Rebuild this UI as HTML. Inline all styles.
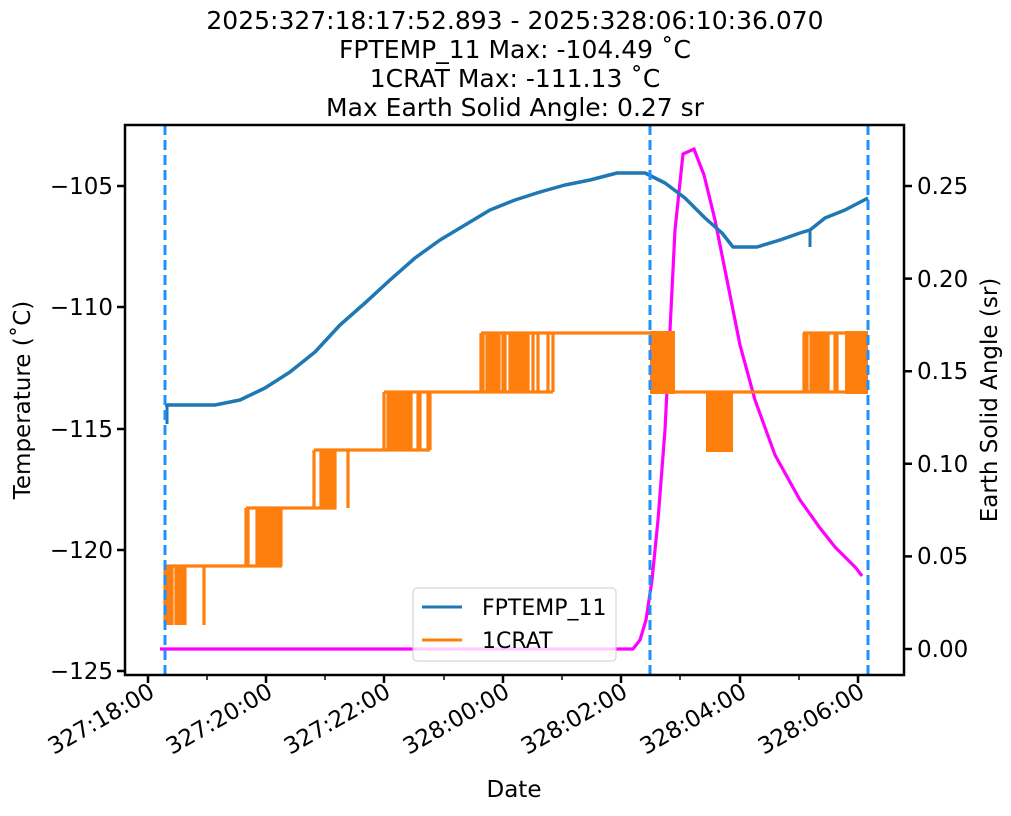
<!DOCTYPE html><html><head><style>body{margin:0;background:#fff}</style></head><body>
<svg width="1011" height="811" xmlns="http://www.w3.org/2000/svg" font-family="DejaVu Sans, Liberation Sans, sans-serif">
<rect width="1011" height="811" fill="#fff"/>
<g font-size="25" text-anchor="middle" fill="#000">
<text x="515" y="29">2025:327:18:17:52.893 - 2025:328:06:10:36.070</text>
<text x="515" y="58">FPTEMP_11 Max: -104.49 ˚C</text>
<text x="515" y="87">1CRAT Max: -111.13 ˚C</text>
<text x="515" y="116">Max Earth Solid Angle: 0.27 sr</text>
</g>
<polyline fill="none" stroke="#ff00ff" stroke-width="3.2" points="160,649 633,649 640,640 646,620 652,580 658,520 665,430 670,330 675,230 683,154 694,149 704,175 715,220 725,270 740,345 755,400 775,455 800,500 820,528 835,547 850,562 856,568 862,576"/>
<g stroke="#ff7f0e" stroke-width="3.2" fill="none">
<path d="M165,566 H282 M246,508 H335 V450 H383 M314,450 H430 M384,392 H553 M481,333 H650 M650,392 H868 M803,333 H868 M165,566 V625"/>
<path d="M166,566V625M168,566V625M170,566V625M172,566V625M176,566V625M179,566V625M181,566V625M183,566V625M185,566V625M204,566V625"/>
<path d="M246,566V508M248,566V508M257,566V508M259,566V508M261,566V508M263,566V508M265,566V508M267,566V508M270,566V508M272,566V508M274,566V508M277,566V508M279,566V508M281,566V508"/>
<path d="M314,508V450M321,508V450M323,508V450M325,508V450M327,508V450M329,508V450M331,508V450M333,508V450M348,508V450"/>
<path d="M384,450V392M388,450V392M391,450V392M393,450V392M395,450V392M397,450V392M399,450V392M401,450V392M403,450V392M405,450V392M407,450V392M409,450V392M411,450V392M418,450V392M420,450V392M428,450V392M430,450V392"/>
<path d="M481,392V333M483,392V333M487,392V333M489,392V333M491,392V333M493,392V333M495,392V333M497,392V333M499,392V333M503,392V333M505,392V333M510,392V333M512,392V333M514,392V333M516,392V333M518,392V333M520,392V333M522,392V333M524,392V333M526,392V333M528,392V333M533,392V333M538,392V333M548,392V333M553,392V333"/>
<path d="M804,392V333M807,392V333M811,392V333M814,392V333M817,392V333M820,392V333M822,392V333M825,392V333M828,392V333M835,392V333M837,392V333"/>
</g>
<g fill="#ff7f0e"><rect x="650" y="331" width="25" height="63"/><rect x="706" y="392" width="27" height="60"/><rect x="845" y="331" width="23" height="63"/></g>
<polyline fill="none" stroke="#1f77b4" stroke-width="3.5" stroke-linejoin="round" points="165,405 215,405 240,400 265,388 290,372 315,352 340,325 365,303 390,280 415,258 440,240 465,225 490,210 515,200 540,192 565,185 590,180 617,173 645,173 665,183 685,198 705,218 722,233 733,247 757,247 780,240 800,233 810,230 825,218 845,210 868,198"/>
<path d="M167,405V424M810,230V247" stroke="#1f77b4" stroke-width="3"/>
<g stroke="#1e90ff" stroke-width="3" stroke-dasharray="10,5"><path d="M165,125V675M650,125V675M868,125V675"/></g>
<rect x="125" y="125" width="779" height="550" fill="none" stroke="#000" stroke-width="2.5"/>
<g stroke="#000" stroke-width="2.5">
<path d="M125,186h-8M125,307h-8M125,429h-8M125,550h-8M125,671h-8"/>
<path d="M904,186h8M904,278.6h8M904,371.2h8M904,463.8h8M904,556.4h8M904,649h8"/>
<path d="M148,675v8M266,675v8M384,675v8M503,675v8M621,675v8M740,675v8M858,675v8"/>
<path stroke-width="1.5" d="M207,675v5M325,675v5M444,675v5M562,675v5M680,675v5M799,675v5"/>
</g>
<g font-size="23" text-anchor="end">
<text x="113" y="194">−105</text><text x="113" y="315">−110</text><text x="113" y="437">−115</text><text x="113" y="558">−120</text><text x="113" y="679">−125</text>
</g>
<g font-size="23">
<text x="917" y="194">0.25</text><text x="917" y="287">0.20</text><text x="917" y="379">0.15</text><text x="917" y="472">0.10</text><text x="917" y="564">0.05</text><text x="917" y="657">0.00</text>
</g>
<g font-size="23" text-anchor="end">
<text transform="translate(156,696) rotate(-30)">327:18:00</text>
<text transform="translate(274,696) rotate(-30)">327:20:00</text>
<text transform="translate(392,696) rotate(-30)">327:22:00</text>
<text transform="translate(511,696) rotate(-30)">328:00:00</text>
<text transform="translate(629,696) rotate(-30)">328:02:00</text>
<text transform="translate(748,696) rotate(-30)">328:04:00</text>
<text transform="translate(866,696) rotate(-30)">328:06:00</text>
</g>
<text x="514" y="797" font-size="23" text-anchor="middle">Date</text>
<text transform="translate(30,400) rotate(-90)" font-size="23" text-anchor="middle">Temperature (˚C)</text>
<text transform="translate(997,400) rotate(-90)" font-size="23" text-anchor="middle">Earth Solid Angle (sr)</text>
<rect x="413" y="588" width="203" height="73" rx="4" fill="#fff" fill-opacity="0.8" stroke="#ccc"/>
<path d="M422,607h40" stroke="#1f77b4" stroke-width="3"/>
<path d="M422,640h40" stroke="#ff7f0e" stroke-width="3"/>
<text x="482" y="615" font-size="22">FPTEMP_11</text>
<text x="482" y="648" font-size="22">1CRAT</text>
</svg>
</body></html>
